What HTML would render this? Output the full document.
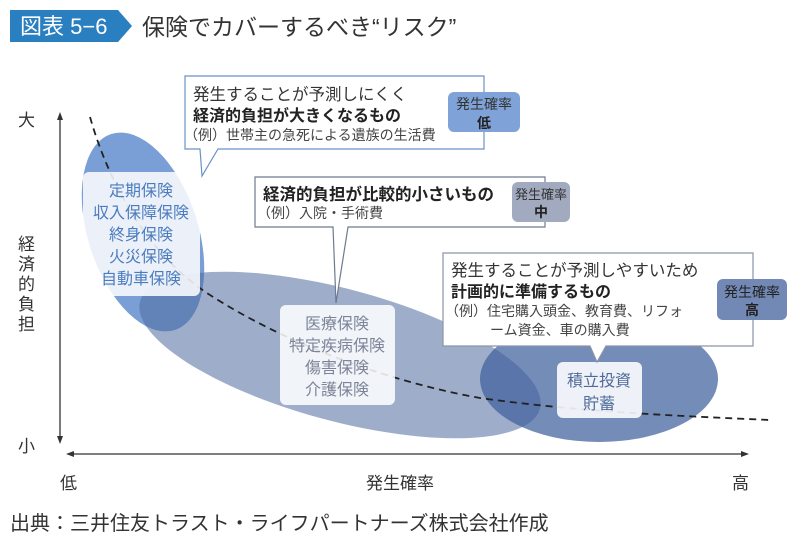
<!DOCTYPE html>
<html><head><meta charset="utf-8"><style>
html,body{margin:0;padding:0;background:#fff}
svg{display:block}
text{font-family:"Liberation Sans","Noto Sans CJK JP",sans-serif}
</style></head><body>
<svg width="800" height="541" viewBox="0 0 800 541" xmlns="http://www.w3.org/2000/svg">
<defs>
<marker id="ah" markerWidth="8" markerHeight="8" refX="4" refY="4" orient="auto-start-reverse" markerUnits="userSpaceOnUse"><path d="M0,1 L8,4 L0,7 Z" fill="#333"/></marker>
</defs>
<path d="M10,10 H118 L132,26 L118,42 H10 Z" fill="#2a7fc0"/>
<text x="20" y="34" font-size="22" fill="#fff">図表 5−6</text>
<text x="142" y="35" font-size="23" fill="#333">保険でカバーするべき“リスク”</text>

<line x1="60" y1="440" x2="60" y2="116" stroke="#333" stroke-width="1.3" marker-end="url(#ah)" marker-start="url(#ah)"/>
<line x1="70" y1="454" x2="745" y2="454" stroke="#333" stroke-width="1.3" marker-end="url(#ah)" marker-start="url(#ah)"/>
<text x="18" y="126" font-size="17" fill="#333">大</text>
<text x="18" y="452" font-size="17" fill="#333">小</text>
<g font-size="17" fill="#333">
<text x="18" y="250">経</text><text x="18" y="270">済</text><text x="18" y="290">的</text><text x="18" y="310">負</text><text x="18" y="330">担</text>
</g>
<text x="60" y="489" font-size="17" fill="#333">低</text>
<text x="366" y="489" font-size="17" fill="#333">発生確率</text>
<text x="732" y="489" font-size="17" fill="#333">高</text>
<text x="10" y="530" font-size="20" fill="#333">出典：三井住友トラスト・ライフパートナーズ株式会社作成</text>

<ellipse cx="143" cy="232" rx="55" ry="103" transform="rotate(-18 143 232)" fill="#7a9fd6"/>
<ellipse cx="340" cy="355" rx="207" ry="66" transform="rotate(15 340 355)" fill="#4f6b9f" fill-opacity="0.55"/>
<ellipse cx="599" cy="379" rx="119" ry="63" fill="#3f609c" fill-opacity="0.72"/>

<path d="M90,117 C105,170 140,250 210,295 C280,340 380,380 480,398 C580,412 680,416 770,420" fill="none" stroke="#222" stroke-width="1.8" stroke-dasharray="7,5"/>

<rect x="83" y="172" width="117" height="124" rx="6" fill="#fff" fill-opacity="0.86"/>
<g font-size="16" fill="#4a7cc0" text-anchor="middle">
<text x="141" y="196">定期保険</text><text x="141" y="218">収入保障保険</text><text x="141" y="240">終身保険</text><text x="141" y="262">火災保険</text><text x="141" y="284">自動車保険</text>
</g>
<rect x="280" y="305" width="115" height="100" rx="6" fill="#fff" fill-opacity="0.86"/>
<g font-size="16" fill="#7d8499" text-anchor="middle">
<text x="337" y="329">医療保険</text><text x="337" y="351">特定疾病保険</text><text x="337" y="373">傷害保険</text><text x="337" y="395">介護保険</text>
</g>
<rect x="557" y="362" width="85" height="56" rx="6" fill="#fff" fill-opacity="0.88"/>
<g font-size="16" fill="#4e6a9a" text-anchor="middle">
<text x="599" y="386">積立投資</text><text x="599" y="409">貯蓄</text>
</g>

<path d="M185,76 H484 V149 H218 L202,176 L200,149 H185 Z" fill="#fff" stroke="#6a92c8" stroke-width="1.2"/>
<text x="193" y="100" font-size="16.5" fill="#333">発生することが予測しにくく</text>
<text x="193" y="121" font-size="16" font-weight="bold" fill="#222">経済的負担が大きくなるもの</text>
<text x="184" y="140" font-size="14" fill="#444">（例）世帯主の急死による遺族の生活費</text>
<rect x="448" y="92" width="72" height="40" rx="6" fill="#7fa3d8"/>
<text x="484" y="109" font-size="14" fill="#333" text-anchor="middle">発生確率</text>
<text x="484" y="128" font-size="14" font-weight="bold" fill="#222" text-anchor="middle">低</text>

<path d="M255,177 H545 V227 H348 L336,303 L333,227 H255 Z" fill="#fff" stroke="#6d7a8f" stroke-width="1.2"/>
<text x="263" y="200" font-size="16.5" font-weight="bold" fill="#222">経済的負担が比較的小さいもの</text>
<text x="257" y="218" font-size="14" fill="#444">（例）入院・手術費</text>
<rect x="512" y="182" width="58" height="40" rx="6" fill="#a2aac0"/>
<text x="541" y="199" font-size="13" fill="#333" text-anchor="middle">発生確率</text>
<text x="541" y="217" font-size="14" font-weight="bold" fill="#222" text-anchor="middle">中</text>

<path d="M443,253 H753 V346 H606 L597,362 L590,346 H443 Z" fill="#fff" stroke="#8a94a6" stroke-width="1.2"/>
<text x="451" y="276" font-size="16.5" fill="#333">発生することが予測しやすいため</text>
<text x="451" y="297" font-size="16" font-weight="bold" fill="#222">計画的に準備するもの</text>
<text x="445" y="316" font-size="14" fill="#444">（例）住宅購入頭金、教育費、リフォ</text>
<text x="490" y="335" font-size="14" fill="#444">ーム資金、車の購入費</text>
<rect x="717" y="279" width="70" height="41" rx="6" fill="#7288b5"/>
<text x="752" y="297" font-size="14" fill="#222" text-anchor="middle">発生確率</text>
<text x="752" y="315" font-size="14" font-weight="bold" fill="#222" text-anchor="middle">高</text>
</svg>
</body></html>
